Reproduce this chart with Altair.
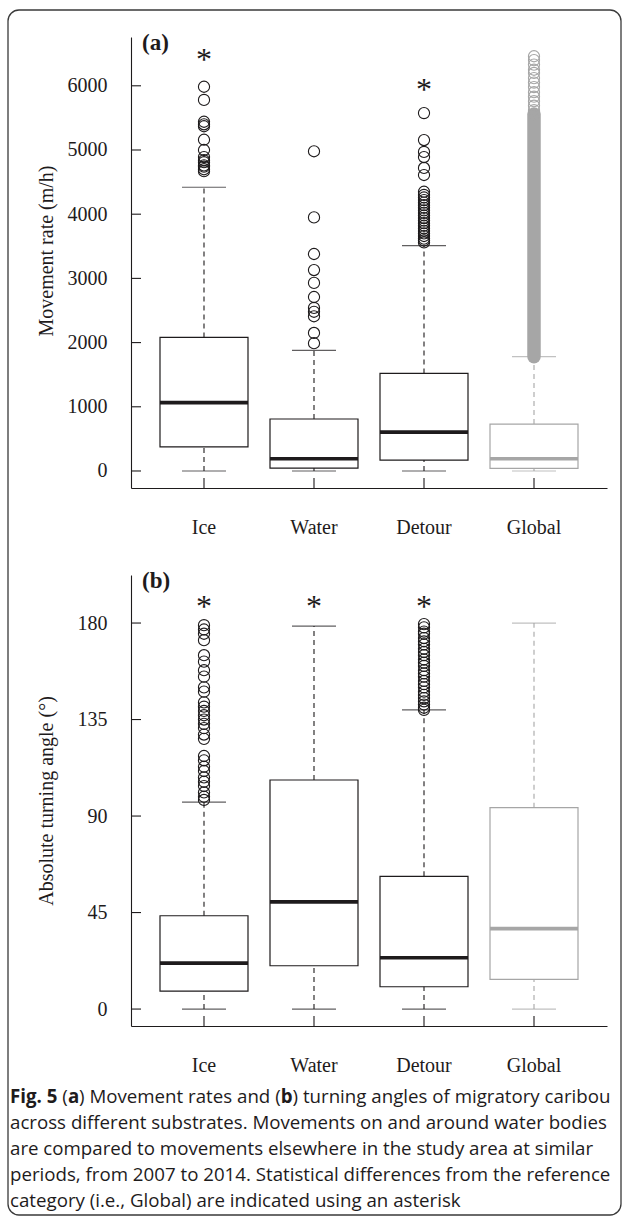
import altair as alt
import pandas as pd

# ---------------- data ----------------
CATS = ["Ice", "Water", "Detour", "Global"]

# (a) movement rate (m/h)
A_LOW = [0, 0, 0, 0]
A_Q1 = [375, 45, 170, 40]
A_MED = [1065, 190, 605, 190]
A_Q3 = [2080, 810, 1520, 730]
A_HIGH = [4420, 1880, 3510, 1780]
A_OUT_ICE = [5985, 5780, 5440, 5400, 5370, 5160, 5000, 4890, 4840, 4810, 4760, 4740, 4700, 4670]
A_OUT_WATER = [4980, 3950, 3380, 3130, 2930, 2710, 2540, 2480, 2410, 2150, 1990]
A_OUT_DETOUR = [5575, 5155, 4970, 4890, 4720, 4610, 4350, 4300, 4260, 4220, 4180, 4140,
                4100, 4060, 4020, 3980, 3940, 3900, 3860, 3820, 3780, 3740, 3700, 3660,
                3620, 3590, 3560]
A_OUT_GLOBAL = [6460, 6400, 6330, 6250, 6200, 6120, 6050, 5980, 5900, 5830, 5760, 5690, 5620, 5560]
A_GLOBAL_RUN = [1780, 5560]          # unbroken run of Global outliers (from, to)
A_TICKS = [0, 1000, 2000, 3000, 4000, 5000, 6000]
A_STAR_CATS = ["Ice", "Detour"]
A_STAR_VALS = [6480, 6010]
A_DOMAIN = [-265, 6760]

# (b) absolute turning angle (degrees)
B_LOW = [0, 0, 0, 0]
B_Q1 = [8.4, 20.2, 10.4, 13.8]
B_MED = [21.4, 50.0, 23.9, 37.5]
B_Q3 = [43.5, 106.8, 61.9, 93.9]
B_HIGH = [96.5, 178.6, 139.5, 180]
B_OUT_ICE = [179, 177, 175, 172, 165, 162, 158, 155, 150, 148, 143, 141, 139, 137, 135,
             133, 131, 128, 126, 118, 116, 113, 111, 108, 106, 104, 101, 99, 97.5]
B_OUT_DETOUR = [179.5, 178, 176, 175, 173, 171.5, 170, 168, 166.5, 165, 163, 161.5, 160,
                158, 156.5, 155, 153, 151.5, 150, 148, 146.5, 145, 143.5, 142, 140.5, 139.5]
B_TICKS = [0, 45, 90, 135, 180]
B_STAR_CATS = ["Ice", "Water", "Detour"]
B_STAR_VALS = [190, 190, 190]
B_DOMAIN = [-7.9, 202.4]

CAPTION = [
    [("Fig. 5", True), (" (", False), ("a", True), (") Movement rates and (", False),
     ("b", True), (") turning angles of migratory caribou", False)],
    [("across different substrates. Movements on and around water bodies", False)],
    [("are compared to movements elsewhere in the study area at similar", False)],
    [("periods, from 2007 to 2014. Statistical differences from the reference", False)],
    [("category (i.e., Global) are indicated using an asterisk", False)],
]

# ---------------- styling ----------------
W, H = 476, 451
SERIF = "Liberation Serif"
SANS = "Open Sans"
INK = "#1e1b1c"
GRAY = "#a6a6a6"
COLORS = [INK, INK, INK, GRAY]
CAP_SIZE = 18.7

REG = {" ": .26, "(": .296, ")": .296, ".": .266, ",": .245, "a": .556, "b": .613, "c": .476,
       "d": .613, "e": .561, "f": .339, "g": .548, "h": .614, "i": .253, "j": .253, "k": .525,
       "l": .253, "m": .930, "n": .614, "o": .604, "p": .613, "q": .613, "r": .408, "s": .477,
       "t": .353, "u": .614, "v": .501, "w": .778, "x": .524, "y": .502, "z": .477, "M": .890,
       "G": .728, "S": .549, "F": .516}
BOLD = {" ": .26, "F": .561, "i": .297, "g": .557, ".": .292, "5": .572, "a": .598, "b": .631}


def tw(s, bold):
    table = BOLD if bold else REG
    return sum(table.get(ch, 0.572) for ch in s) * CAP_SIZE


def one_row():
    return pd.DataFrame({"k": [0]})


def long_df(groups):
    rows = [(c, v) for c, vals in groups for v in vals]
    return pd.DataFrame(rows, columns=["cat", "value"])


def panel(tag, title, title_y, low, q1, med, q3, high, outliers, run, ticks, star_cats,
          star_vals, domain, extra):
    box = pd.DataFrame({"cat": CATS, "low": low, "q1": q1, "med": med, "q3": q3, "high": high})
    xs = alt.Scale(domain=CATS, paddingInner=0.2, paddingOuter=0.2636)
    ys = alt.Scale(domain=domain, nice=False, zero=False)
    xaxis = alt.Axis(ticks=False, labelAngle=0, labelPadding=39, labelBaseline="middle",
                     labelFont=SERIF, labelFontSize=20, labelColor=INK, domainColor=INK,
                     domainWidth=1.1, grid=False)
    yaxis = alt.Axis(values=ticks, format="d", ticks=False, labelPadding=24, labelFont=SERIF,
                     labelFontSize=20, labelColor=INK, domainColor=INK, domainWidth=1.1,
                     grid=False, titleFont=SERIF, titleFontSize=20, titleFontWeight="normal",
                     titleColor=INK, titleX=-85, titleY=title_y, titleBaseline="middle",
                     titleAlign="center")

    def X():
        return alt.X("cat:N", scale=xs, sort=CATS, axis=xaxis, title=None)

    def Y(f):
        return alt.Y(f, scale=ys, axis=yaxis, title=title)

    color = alt.Color("cat:N", scale=alt.Scale(domain=CATS, range=COLORS), legend=None)
    base = alt.Chart(box)

    layers = [
        base.mark_bar(filled=False, strokeWidth=1.2).encode(x=X(), y=Y("q1:Q"), y2="q3:Q", color=color),
        base.mark_rule(strokeDash=[5, 4], strokeWidth=1.1).encode(x=X(), y=Y("q3:Q"), y2="high:Q", color=color),
        base.mark_rule(strokeDash=[5, 4], strokeWidth=1.1).encode(x=X(), y=Y("low:Q"), y2="q1:Q", color=color),
        base.mark_tick(size=44, thickness=1.2).encode(x=X(), y=Y("high:Q"), color=color),
        base.mark_tick(size=44, thickness=1.2).encode(x=X(), y=Y("low:Q"), color=color),
        base.mark_tick(size=88, thickness=3.6, opacity=1).encode(x=X(), y=Y("med:Q"), color=color),
    ]
    if run is not None:
        run_df = pd.DataFrame({"cat": [run[0]], "lo": [run[1]], "hi": [run[2]]})
        layers.append(alt.Chart(run_df).mark_rule(strokeWidth=13.5, strokeCap="round").encode(
            x=X(), y=Y("lo:Q"), y2="hi:Q", color=color))
    layers.append(alt.Chart(outliers).mark_point(shape="circle", size=125, filled=False,
                                                 strokeWidth=1.1, opacity=1).encode(
        x=X(), y=Y("value:Q"), color=color))
    stars = pd.DataFrame({"cat": star_cats, "value": star_vals})
    layers.append(alt.Chart(stars).mark_text(text="*", font=SERIF, fontSize=32, baseline="alphabetic",
                                             dy=15, color=INK).encode(x=X(), y=Y("value:Q")))
    # inward tick marks
    layers.append(alt.Chart(pd.DataFrame({"t": ticks})).mark_rule(color=INK, strokeWidth=1.1).encode(
        x=alt.value(0), x2=alt.value(10), y=Y("t:Q")))
    layers.append(base.mark_rule(color=INK, strokeWidth=1.1).encode(
        x=X(), y=alt.value(H), y2=alt.value(H - 10)))
    # panel tag
    layers.append(alt.Chart(pd.DataFrame({"t": [tag]})).mark_text(
        font=SERIF, fontSize=23, fontWeight="bold", align="left", baseline="middle", color=INK
    ).encode(x=alt.value(11), y=alt.value(6), text="t:N"))
    layers.extend(extra)
    return alt.layer(*layers).properties(width=W, height=H)


# frame around the whole figure (drawn from panel a, in its pixel space)
frame = alt.Chart(one_row()).mark_rect(filled=False, stroke="#3a3a3a", strokeWidth=1.3,
                                       cornerRadius=11).encode(
    x=alt.value(-123), x2=alt.value(490), y=alt.value(-27), y2=alt.value(1178))

# caption (drawn from panel b, in its pixel space)
cap_layers = []
line_y0 = 1097 - 575
for i, segs in enumerate(CAPTION):
    xpos = -121.0
    for text, bold in segs:
        stripped = text.lstrip(" ")
        xpos += tw(text[: len(text) - len(stripped)], False)
        cap_layers.append(alt.Chart(pd.DataFrame({"t": [stripped]})).mark_text(
            font=SANS, fontSize=CAP_SIZE, fontWeight="bold" if bold else "normal",
            align="left", baseline="middle", color=INK
        ).encode(x=alt.value(xpos), y=alt.value(line_y0 + i * 26), text="t:N"))
        xpos += tw(stripped, bold)

pa = panel("(a)", "Movement rate (m/h)", H / 2 - 12, A_LOW, A_Q1, A_MED, A_Q3, A_HIGH,
           long_df([("Ice", A_OUT_ICE), ("Water", A_OUT_WATER), ("Detour", A_OUT_DETOUR),
                    ("Global", A_OUT_GLOBAL)]),
           ("Global", A_GLOBAL_RUN[0], A_GLOBAL_RUN[1]), A_TICKS, A_STAR_CATS, A_STAR_VALS,
           A_DOMAIN, [frame])
pb = panel("(b)", "Absolute turning angle (°)", H / 2, B_LOW, B_Q1, B_MED, B_Q3, B_HIGH,
           long_df([("Ice", B_OUT_ICE), ("Detour", B_OUT_DETOUR)]),
           None, B_TICKS, B_STAR_CATS, B_STAR_VALS, B_DOMAIN, cap_layers)

chart = alt.vconcat(pa, pb, spacing=87, bounds="flush").properties(
    padding={"left": 7, "top": 9, "right": 0, "bottom": 0},
    background="white",
).configure_view(stroke=None)

chart.save("out.html", embed_options={"renderer": "svg", "actions": False})
